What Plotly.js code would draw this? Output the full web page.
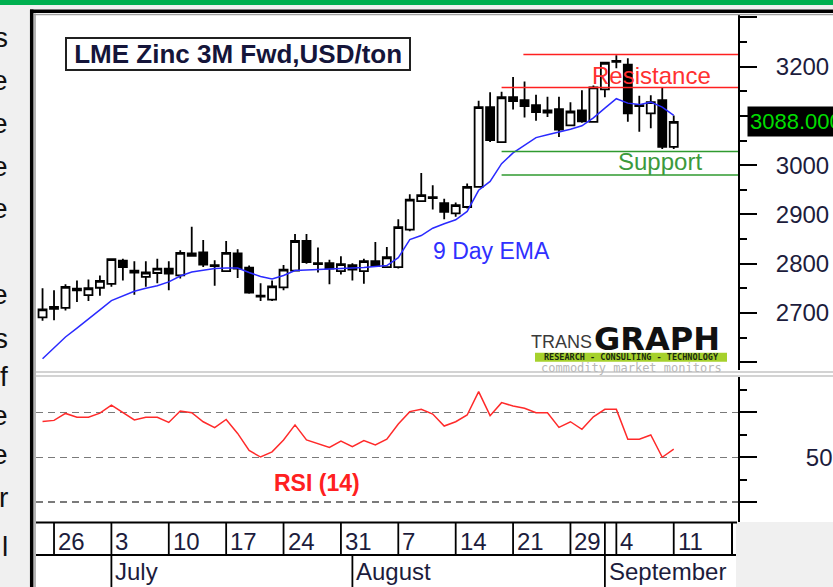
<!DOCTYPE html>
<html><head><meta charset="utf-8">
<script src="https://cdn.plot.ly/plotly-3.0.1.min.js"></script>
<style>html,body{margin:0;padding:0;background:#f0f0f0;overflow:hidden}#chart{width:833px;height:587px}</style>
</head><body><div id="chart"></div>
<script>
// ---- data ----
const dates = ['2017-06-23','2017-06-26','2017-06-27','2017-06-28','2017-06-29','2017-06-30',
'2017-07-03','2017-07-04','2017-07-05','2017-07-06','2017-07-07',
'2017-07-10','2017-07-11','2017-07-12','2017-07-13','2017-07-14',
'2017-07-17','2017-07-18','2017-07-19','2017-07-20','2017-07-21',
'2017-07-24','2017-07-25','2017-07-26','2017-07-27','2017-07-28',
'2017-07-31','2017-08-01','2017-08-02','2017-08-03','2017-08-04',
'2017-08-07','2017-08-08','2017-08-09','2017-08-10','2017-08-11',
'2017-08-14','2017-08-15','2017-08-16','2017-08-17','2017-08-18',
'2017-08-21','2017-08-22','2017-08-23','2017-08-24','2017-08-25',
'2017-08-29','2017-08-30','2017-08-31','2017-09-01',
'2017-09-04','2017-09-05','2017-09-06','2017-09-07','2017-09-08',
'2017-09-11'];
const openP  = [2691,2712,2710,2749,2736,2751, 2759,2806,2786,2773,2781, 2790,2776,2821,2823,2797, 2785,2821,2792,2735,2727, 2752,2786,2846,2801,2801, 2785,2797,2785,2805,2793, 2793,2869,2927,2935,2923, 2902,2915,2956,3118,3047, 3138,3132,3122,3111,3114, 3081,3111,3088,3154, 3210,3204,3120,3105,3132, 3037];
const highP  = [2750,2746,2758,2766,2768,2776, 2810,2810,2805,2805,2810, 2805,2827,2875,2848,2807, 2846,2829,2796,2760,2766, 2797,2860,2860,2833,2808, 2815,2801,2810,2844,2834, 2890,2941,2984,2959,2932, 2924,2963,3131,3148,3149, 3179,3170,3143,3139,3139, 3128,3152,3162,3210, 3223,3217,3141,3142,3158, 3101];
const lowP   = [2684,2685,2705,2722,2724,2735, 2753,2766,2737,2753,2760, 2746,2770,2815,2793,2755, 2783,2771,2739,2724,2724, 2746,2785,2800,2782,2758, 2778,2766,2759,2793,2791, 2790,2866,2925,2910,2890, 2895,2912,2955,3047,3045, 3113,3097,3090,3098,3057, 3079,3086,3086,3138, 3197,3088,3068,3075,3033, 3033];
const closeP = [2707,2708,2753,2746,2750,2765, 2809,2793,2782,2782,2790, 2780,2822,2816,2798,2795, 2822,2790,2741,2733,2754, 2788,2846,2803,2799,2790, 2799,2788,2805,2795,2813, 2874,2930,2939,2933,2905, 2919,2956,3118,3051,3138, 3130,3120,3108,3107,3072, 3109,3089,3158,3208, 3212,3105,3122,3128,3037, 3088];
const ema9   = [2607,2629,2651,2669,2687,2706, 2725,2735,2744,2750,2755, 2763,2775,2783,2787,2790, 2791,2791,2782,2774,2769, 2776,2786,2787,2788,2789, 2790,2790,2792,2794,2796, 2812,2849,2857,2872,2881, 2889,2906,2949,2967,3003, 3025,3041,3056,3062,3067, 3073,3080,3096,3116, 3135,3126,3123,3128,3118, 3101];
const rsi14  = [65.9,66.4,69.5,67.8,67.8,69.6, 73.2,69.7,66.6,67.8,67.8, 65.5,70.6,69.8,65.8,63.2, 66.8,60.6,53.0,50.1,52.4, 57.7,64.4,57.7,56.2,54.4, 57.2,54.7,57.4,55.5,58.0, 64.8,70.3,71.3,69.2,63.9, 65.8,68.8,79.2,68.5,74.3, 72.8,71.8,69.8,69.8,63.3, 65.8,62.4,68.0,71.3, 71.3,58.0,58.0,59.9,50.0, 53.6];
const weekDates  = ['2017-06-26','2017-07-03','2017-07-10','2017-07-17','2017-07-24','2017-07-31','2017-08-07','2017-08-14','2017-08-21','2017-08-29','2017-09-04','2017-09-11'];
const weekLabels = ['26','3','10','17','24','31','7','14','21','29','4','11'];
const monthDates  = ['2017-07-03','2017-08-01','2017-09-01'];
const monthLabels = ['July','August','September'];
const resistanceLevels = [3225, 3158];
const supportLevels    = [3028, 2980];
const priceTicks = [2600,2700,2800,2900,3000,3100,3200,3300];
const priceTickText = ['','2700','2800','2900','3000','','3200',''];
const rsiLevels = [30,50,70];
const rsiTickText = ['','50',''];

// ---- helpers ----
const W=833,H=587;
const px=x=>x/W, py=y=>1-y/H;
const idx = dates.map((d,i)=>i);
const ix = d => dates.indexOf(d);
const XR = [-0.57, 60.6];
const FONT = 'Liberation Sans, Arial, sans-serif';
const TXT = '#1c1c3c';

const traces = [
 {type:'candlestick', x:idx, open:openP, high:highP, low:lowP, close:closeP, xaxis:'x', yaxis:'y',
  increasing:{line:{color:'#000',width:1.8}, fillcolor:'#fff'},
  decreasing:{line:{color:'#000',width:1.8}, fillcolor:'#000'},
  whiskerwidth:0, hoverinfo:'skip', showlegend:false},
 {type:'scatter', mode:'lines', x:idx, y:ema9, xaxis:'x', yaxis:'y', line:{color:'#2a2aff',width:1.5}, hoverinfo:'skip'},
 {type:'scatter', mode:'lines', x:idx, y:rsi14, xaxis:'x2', yaxis:'y2', line:{color:'#ff2a2a',width:1.5}, hoverinfo:'skip'}
];

const shapes = [];
const rect=(x0,x1,y0,y1,fill,layer)=>shapes.push({type:'rect',xref:'paper',yref:'paper',x0:px(x0),x1:px(x1),y0:py(y1),y1:py(y0),fillcolor:fill,line:{width:0},layer:layer||'below'});
const pline=(x0,y0,x1,y1,color,w)=>shapes.push({type:'line',xref:'paper',yref:'paper',x0:px(x0),x1:px(x1),y0:py(y0),y1:py(y1),line:{color:color,width:w},layer:'above'});
rect(0,833,0,5,'#00b050');
rect(36,833,14,522,'#ffffff');
rect(36,736,522,587,'#ffffff');
// frame
pline(31.7,9.5,31.7,587,'#000',3.5);
pline(30,11.3,833,11.3,'#000',3.5);
pline(35,13.5,35,587,'#a0a0a0',1.5);
pline(34,14.6,833,14.6,'#a0a0a0',1.2);
// panel separator
pline(36,372,833,372,'#c4c4c4',1.5);
pline(36,376,833,376,'#c4c4c4',1.5);
// date rows
pline(36,522.5,737,522.5,'#000',2);
pline(36,555,736,555,'#000',2);
pline(732,522,732,555,'#000',2);
weekDates.concat(['2017-09-01']).forEach(d=>shapes.push({type:'line',xref:'x',yref:'paper',x0:ix(d),x1:ix(d),y0:py(555),y1:py(522),line:{color:'#000',width:1.8},layer:'above'}));
monthDates.forEach(d=>shapes.push({type:'line',xref:'x',yref:'paper',x0:ix(d),x1:ix(d),y0:0,y1:py(555),line:{color:'#000',width:1.8},layer:'above'}));
// resistance / support
const levelStart = [41.9, 40, 40, 40];
resistanceLevels.forEach((v,k)=>shapes.push({type:'line',xref:'x',yref:'y',x0:levelStart[k],x1:XR[1],y0:v,y1:v,line:{color:'#ff2020',width:1.5},layer:'above'}));
supportLevels.forEach((v,k)=>shapes.push({type:'line',xref:'x',yref:'y',x0:levelStart[2+k],x1:XR[1],y0:v,y1:v,line:{color:'#2f9a2f',width:1.5},layer:'above'}));
// logo bar
rect(535,727,352.7,361.7,'#a6d12c','above');

const ann = [];
const a = o => ann.push(Object.assign({showarrow:false, xref:'paper', yref:'paper', xanchor:'center', yanchor:'middle'}, o));
a({x:px(65), y:py(53.5), xanchor:'left', text:'\u00a0LME Zinc 3M Fwd,USD/ton\u00a0', font:{family:FONT,size:26,color:'#15153a',weight:'bold'}, bgcolor:'#fff', bordercolor:'#202020', borderwidth:2, borderpad:0});
a({x:px(747), yref:'y', y:closeP[closeP.length-1], xanchor:'left', text:closeP[closeP.length-1].toFixed(3), font:{family:FONT,size:22,color:'#00dd00'}, bgcolor:'#000', borderpad:2});
a({x:px(651), y:py(75.5), text:'Resistance', font:{family:FONT,size:24,color:'#ff3030'}});
a({x:px(660), y:py(161.5), text:'Support', font:{family:FONT,size:24,color:'#3c9a3c'}});
a({x:px(491.5), y:py(251.5), text:'9 Day EMA', font:{family:FONT,size:23,color:'#3030ff'}});
a({x:px(316.5), y:py(483), text:'RSI (14)', font:{family:FONT,size:23,color:'#ff2020',weight:'bold'}});
a({x:px(593), y:py(341.5), xanchor:'right', text:'TRANS', font:{family:'Liberation Sans Narrow, Arial Narrow, Liberation Sans',size:18,color:'#3a3a3a'}, borderpad:0});
a({x:px(593), y:py(339.5), xanchor:'left', text:'GRAPH', font:{family:'DejaVu Sans, sans-serif',size:32,color:'#111',weight:'bold'}, borderpad:0});
a({x:px(631), y:py(357.2), text:'RESEARCH - CONSULTING - TECHNOLOGY', font:{family:'DejaVu Sans Mono, monospace',size:8.5,color:'#1a2a10',weight:'bold'}, borderpad:0});
a({x:px(631), y:py(367.5), text:'commodity market monitors', font:{family:'DejaVu Sans Mono, monospace',size:12,color:'#b8b8b8'}, borderpad:0});
weekDates.forEach((d,k)=>a({xref:'x', x:ix(d), y:py(541), xanchor:'left', xshift:2, text:weekLabels[k], font:{family:FONT,size:24,color:TXT}}));
monthDates.forEach((d,k)=>a({xref:'x', x:ix(d), y:py(571), xanchor:'left', xshift:2, text:monthLabels[k], font:{family:FONT,size:24,color:TXT}}));
// cropped document text at the left edge
const sideText = [['s',37.5],['e',80],['e',123],['e',166],['e',208],['e',295],['s',338],['f',376],['e',415],['e',454],['r',497],['l',546]];
sideText.forEach(s=>a({x:px(9), y:py(s[1]), xanchor:'right', text:s[0], font:{family:FONT,size:28,color:'#111'}, borderpad:0}));

const axisFont = {family:FONT,size:24,color:TXT};
const layout = {
 width:W, height:H, margin:{l:0,r:0,t:0,b:0}, paper_bgcolor:'#f0f0f0', plot_bgcolor:'#ffffff',
 showlegend:false, hovermode:false, dragmode:false, boxgap:0.3, boxgroupgap:0,
 xaxis:{domain:[px(36),px(738)], range:XR, anchor:'y', showticklabels:false, ticks:'', showgrid:false, zeroline:false, showline:false, rangeslider:{visible:false}, fixedrange:true},
 yaxis:{domain:[py(370),py(15)], range:[2584,3305], anchor:'x', side:'right', showline:true, linecolor:'#000', linewidth:2,
   tickmode:'array', tickvals:priceTicks, ticktext:priceTickText, ticks:'outside', ticklen:17, tickwidth:2, tickcolor:'#000',
   minor:{tickmode:'linear', tick0:0, dtick:50, ticks:'outside', ticklen:7, tickwidth:2, tickcolor:'#000', showgrid:false},
   tickfont:axisFont, ticklabelstandoff:14, showgrid:false, zeroline:false, fixedrange:true},
 xaxis2:{domain:[px(36),px(738)], range:XR, anchor:'y2', showticklabels:false, ticks:'', showgrid:false, zeroline:false, showline:false, fixedrange:true},
 yaxis2:{domain:[py(522),py(377)], range:[21.2,85.7], anchor:'x2', side:'right', showline:true, linecolor:'#000', linewidth:2,
   tickmode:'array', tickvals:rsiLevels, ticktext:rsiTickText, ticks:'outside', ticklen:17, tickwidth:2, tickcolor:'#000',
   minor:{tickmode:'array', tickvals:[40,60,80], ticks:'outside', ticklen:7, tickwidth:2, tickcolor:'#000', showgrid:false},
   tickfont:axisFont, ticklabelstandoff:44, showgrid:true, gridcolor:'#7a7a7a', gridwidth:1.5, griddash:'7px,5px', zeroline:false, fixedrange:true},
 shapes:shapes, annotations:ann
};
Plotly.newPlot('chart', traces, layout, {staticPlot:true, displayModeBar:false});
</script></body></html>
